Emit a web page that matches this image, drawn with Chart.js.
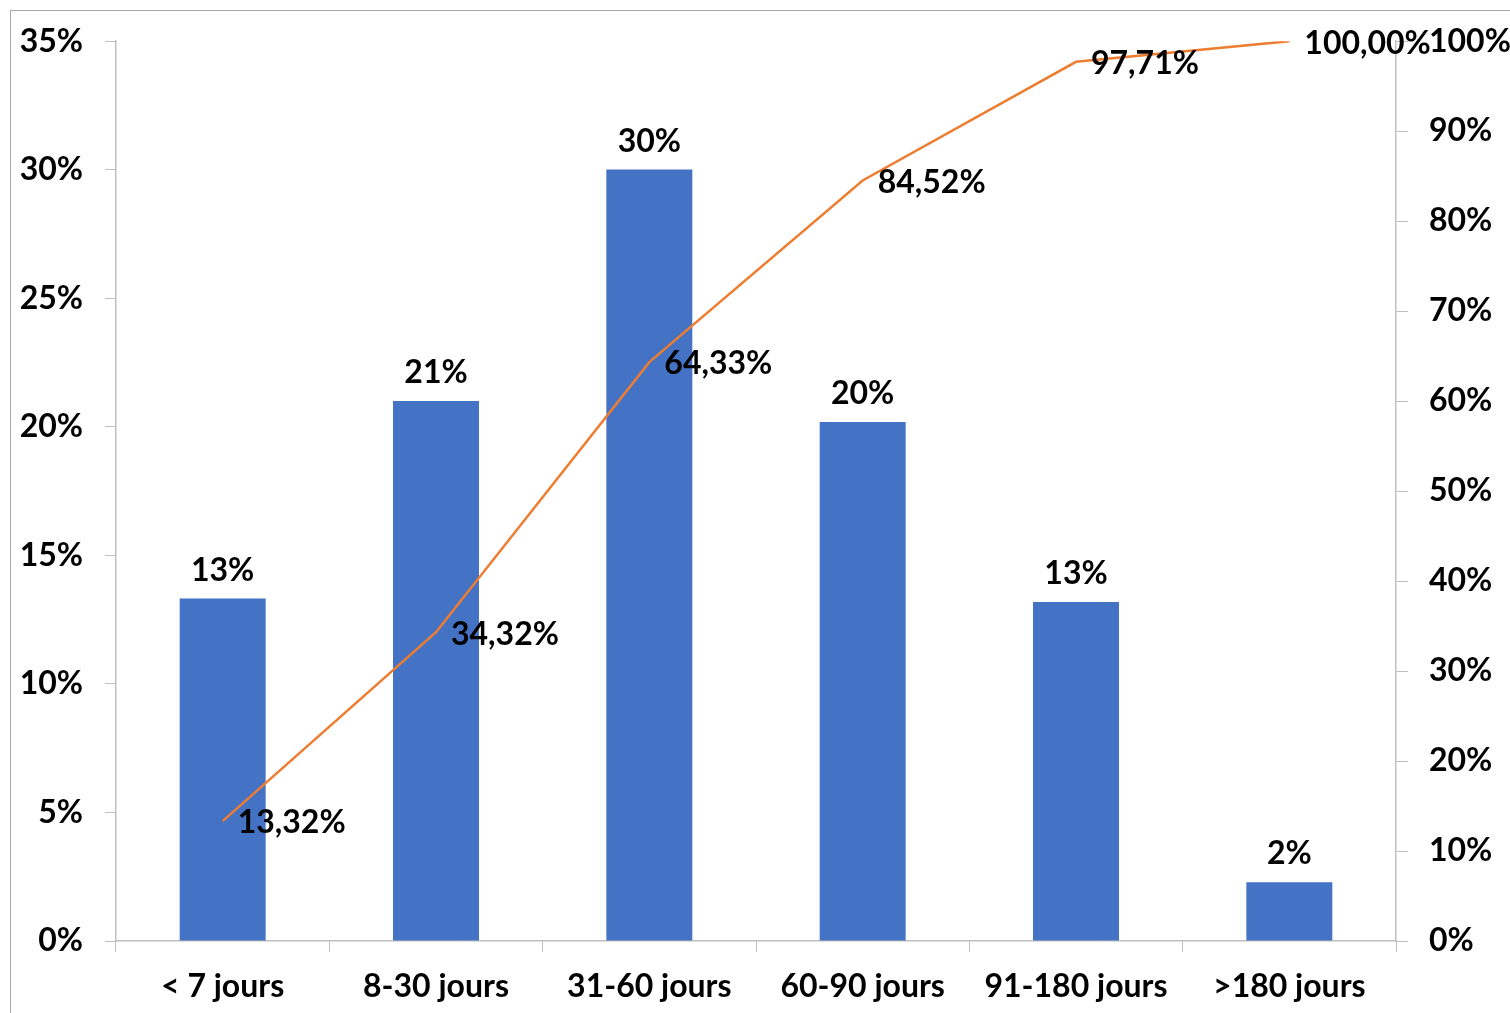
<!DOCTYPE html>
<html>
<head>
<meta charset="utf-8">
<script src="https://cdn.jsdelivr.net/npm/chart.js@4"></script>
<style>
  html, body { margin: 0; padding: 0; background: #fff; overflow: hidden; }
  #frame { position: absolute; left: 10px; top: 10px; width: 1600px; height: 1100px; border: 1px solid #a6a6a6; }
  #chart { position: absolute; left: 0; top: 0; }
</style>
</head>
<body>
<div id="frame"></div>
<canvas id="chart" width="1510" height="1013"></canvas>
<script>
// categories and values (percent)
const categories = ['< 7 jours', '8-30 jours', '31-60 jours', '60-90 jours', '91-180 jours', '>180 jours'];
const shareValues = [13.32, 21.00, 30.01, 20.19, 13.19, 2.29];
const cumulValues = [13.32, 34.32, 64.33, 84.52, 97.71, 100.00];
const leftTicks = [0, 5, 10, 15, 20, 25, 30, 35];
const rightTicks = [0, 10, 20, 30, 40, 50, 60, 70, 80, 90, 100];

const FONT = 'Lato, "Open Sans", sans-serif';
const FONT_SIZE = 32;
const AXIS_GRAY = '#bfbfbf';

// draws the value labels (no datalabels plugin offline)
const valueLabels = {
  id: 'valueLabels',
  afterDatasetsDraw(chart) {
    const ctx = chart.ctx;
    ctx.save();
    ctx.fillStyle = '#000';
    ctx.font = 'bold ' + FONT_SIZE + 'px ' + FONT;

    const bars = chart.getDatasetMeta(1).data;
    ctx.textAlign = 'center';
    ctx.textBaseline = 'middle';
    bars.forEach((b, i) => {
      ctx.fillText(Math.round(shareValues[i]) + '%', b.x, b.y - 28);
    });

    const pts = chart.getDatasetMeta(0).data;
    ctx.textAlign = 'left';
    pts.forEach((p, i) => {
      ctx.fillText(cumulValues[i].toFixed(2).replace('.', ',') + '%', p.x + 15, p.y + 2);
    });
    ctx.restore();
  }
};

const tickFont = { family: FONT, size: FONT_SIZE, weight: 'bold' };

new Chart(document.getElementById('chart').getContext('2d'), {
  data: {
    labels: categories,
    datasets: [
      {
        type: 'line',
        label: 'Cumul',
        data: cumulValues,
        borderColor: '#ED7D31',
        borderWidth: 2.5,
        pointRadius: 0,
        tension: 0,
        yAxisID: 'y1',
        order: 0,
      },
      {
        type: 'bar',
        label: 'Part',
        data: shareValues,
        backgroundColor: '#4472C4',
        categoryPercentage: 1,
        barPercentage: 0.403,
        yAxisID: 'y',
        order: 1,
      },
    ],
  },
  options: {
    responsive: false,
    animation: false,
    devicePixelRatio: 1,
    layout: { padding: { top: 41, left: 0, right: 0, bottom: 0 } },
    plugins: {
      legend: { display: false },
      tooltip: { enabled: false },
    },
    scales: {
      x: {
        offset: true,
        grid: { offset: true, drawOnChartArea: false, color: AXIS_GRAY, tickLength: 11 },
        border: { color: AXIS_GRAY, width: 1.5 },
        ticks: { color: '#000', font: tickFont, padding: 15, maxRotation: 0 },
        afterFit: s => { s.height = 72; },
      },
      y: {
        position: 'left',
        min: 0, max: 35,
        afterBuildTicks: s => { s.ticks = leftTicks.map(v => ({ value: v })); },
        grid: { drawOnChartArea: false, color: AXIS_GRAY, tickLength: 11 },
        border: { color: AXIS_GRAY, width: 1.5 },
        ticks: { color: '#000', font: tickFont, padding: 22, callback: v => v + '%' },
        afterFit: s => { s.width = 116; },
      },
      y1: {
        position: 'right',
        min: 0, max: 100,
        afterBuildTicks: s => { s.ticks = rightTicks.map(v => ({ value: v })); },
        grid: { drawOnChartArea: false, color: AXIS_GRAY, tickLength: 12 },
        border: { color: AXIS_GRAY, width: 1.5 },
        ticks: { color: '#000', font: tickFont, padding: 21, callback: v => v + '%' },
        afterFit: s => { s.width = 114; },
      },
    },
  },
  plugins: [valueLabels],
});
</script>
</body>
</html>
